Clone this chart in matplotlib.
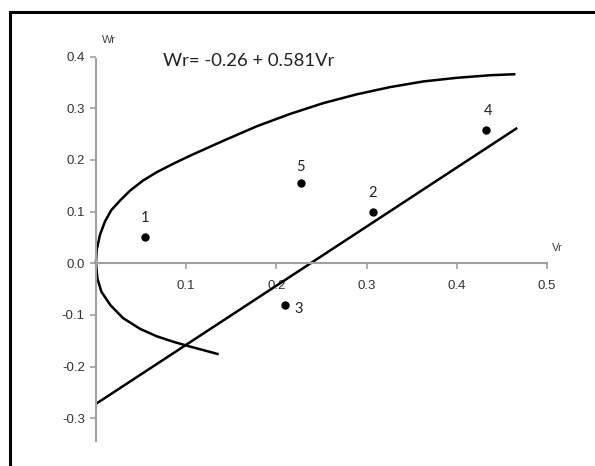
import matplotlib
matplotlib.use("Agg")
import matplotlib.pyplot as plt
from matplotlib.lines import Line2D

# observed points (Vr, Wr)
point_ids = ["1", "5", "2", "4", "3"]
vr = [0.054, 0.227, 0.307, 0.432, 0.209]
wr = [0.051, 0.155, 0.099, 0.258, -0.081]

# straight line as drawn (ends)
line_vr = [0.0, 0.467]
line_wr = [-0.272, 0.262]

# curved boundary (lower end -> upper end)
curve_vr = [0.136, 0.104, 0.086, 0.067, 0.049, 0.030, 0.016, 0.006, 0.0015, 0.0,
            0.0008, 0.0044, 0.010, 0.017, 0.027, 0.038, 0.052, 0.067, 0.086, 0.104,
            0.141, 0.178, 0.215, 0.252, 0.289, 0.326, 0.363, 0.400, 0.437, 0.465]
curve_wr = [-0.176, -0.161, -0.152, -0.141, -0.127, -0.106, -0.081, -0.055, -0.029, 0.002,
            0.026, 0.055, 0.081, 0.103, 0.122, 0.141, 0.160, 0.176, 0.193, 0.208,
            0.237, 0.265, 0.289, 0.310, 0.327, 0.341, 0.352, 0.359, 0.364, 0.366]

x_ticks = [0.1, 0.2, 0.3, 0.4, 0.5]
y_ticks = [-0.3, -0.2, -0.1, 0.0, 0.1, 0.2, 0.3, 0.4]

fig = plt.figure(figsize=(5.95, 4.66), dpi=100)
ax = fig.add_axes([0, 0, 1, 1])
ax.set_xlim(-0.1064, 0.5532)
ax.set_ylim(-0.3923, 0.5096)
ax.patch.set_visible(False)

axis_color = "#a0a0a0"
ax.spines["left"].set_position(("data", 0))
ax.spines["bottom"].set_position(("data", 0))
ax.spines["right"].set_visible(False)
ax.spines["top"].set_visible(False)
for s in ("left", "bottom"):
    ax.spines[s].set_color(axis_color)
    ax.spines[s].set_linewidth(1.5)
ax.spines["left"].set_bounds(-0.344, 0.395)
ax.spines["bottom"].set_bounds(0, 0.5)

ax.set_xticks(x_ticks)
ax.set_yticks(y_ticks)
ax.set_xticklabels([f"{t:.1f}" for t in x_ticks])
ax.set_yticklabels([f"{t:.1f}" for t in y_ticks])
ax.tick_params(axis="both", direction="out", length=4, width=1.2, color=axis_color,
               labelsize=9.5, labelcolor="#333333")
ax.tick_params(axis="x", pad=8)
ax.tick_params(axis="y", pad=4)
for lab in ax.get_xticklabels() + ax.get_yticklabels():
    lab.set_family("Liberation Sans")

ax.plot(curve_vr, curve_wr, color="black", lw=1.8, solid_capstyle="butt",
        solid_joinstyle="round")
ax.plot(line_vr, line_wr, color="black", lw=1.8, solid_capstyle="butt")
ax.plot(vr, wr, "o", color="black", markersize=5)

offsets = {"1": (0, 14), "5": (0, 12), "2": (0, 14), "4": (2, 14), "3": (10, -2.5)}
for pid, x, y in zip(point_ids, vr, wr):
    dx, dy = offsets[pid]
    ax.annotate(pid, (x, y), xytext=(dx, dy), textcoords="offset points",
                ha="center", va="center", fontsize=10.5, family="Lato", color="#222222")

ax.text(0.0144, 0.432, "Wr", fontsize=8, family="Liberation Sans", color="#404040",
        ha="center", va="center")
ax.text(0.511, 0.03, "Vr", fontsize=8, family="Liberation Sans", color="#404040",
        ha="center", va="center")
ax.text(0.074, 0.392, "Wr= -0.26 + 0.581Vr", fontsize=13.3, family="Lato", color="#222222",
        ha="left", va="center")

# picture frame (top and left edges)
fig.add_artist(Line2D([9.5 / 595, 9.5 / 595], [0, 1 - 12 / 466], color="black", lw=2.2,
                      transform=fig.transFigure))
fig.add_artist(Line2D([9.5 / 595, 1], [1 - 12 / 466, 1 - 12 / 466], color="black", lw=2.2,
                      transform=fig.transFigure))

fig.savefig("out.png", dpi=100)
